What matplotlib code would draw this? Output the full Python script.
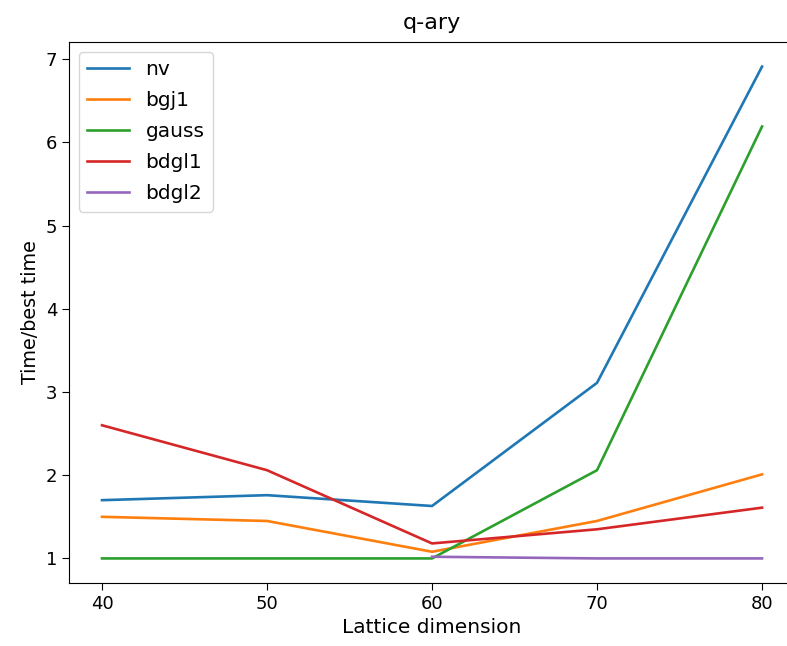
import matplotlib
matplotlib.use("Agg")
import matplotlib.pyplot as plt

dims = [40, 50, 60, 70, 80]
nv = [1.70, 1.76, 1.63, 3.11, 6.91]
bgj1 = [1.50, 1.45, 1.08, 1.45, 2.01]
gauss = [1.0, 1.0, 1.0, 2.06, 6.19]
bdgl1 = [2.60, 2.06, 1.18, 1.35, 1.61]
bdgl2_dims = [60, 70, 80]
bdgl2 = [1.02, 1.0, 1.0]

fig = plt.figure(figsize=(7.87, 6.46), dpi=100)
# the reference is cut off at the right edge, so the axes run past the figure
ax = fig.add_axes([0.0877, 0.0975, 0.9225, 0.8375])

lw = 1.9
ax.plot(dims, nv, linewidth=lw, label="nv")
ax.plot(dims, bgj1, linewidth=lw, label="bgj1")
ax.plot(dims, gauss, linewidth=lw, label="gauss")
ax.plot(dims, bdgl1, linewidth=lw, label="bdgl1")
ax.plot(bdgl2_dims, bdgl2, linewidth=lw, label="bdgl2")

ax.set_xticks([40, 50, 60, 70, 80])
ax.set_yticks([1, 2, 3, 4, 5, 6, 7])
ax.tick_params(labelsize=13, length=5)
ax.set_title("q-ary", fontsize=16, pad=9)
ax.set_xlabel("Lattice dimension", fontsize=14.5)
ax.set_ylabel("Time/best time", fontsize=13.8)
ax.legend(loc="upper left", fontsize=14.5, labelspacing=0.6, handlelength=2.1)

fig.savefig("out.png", dpi=100)
